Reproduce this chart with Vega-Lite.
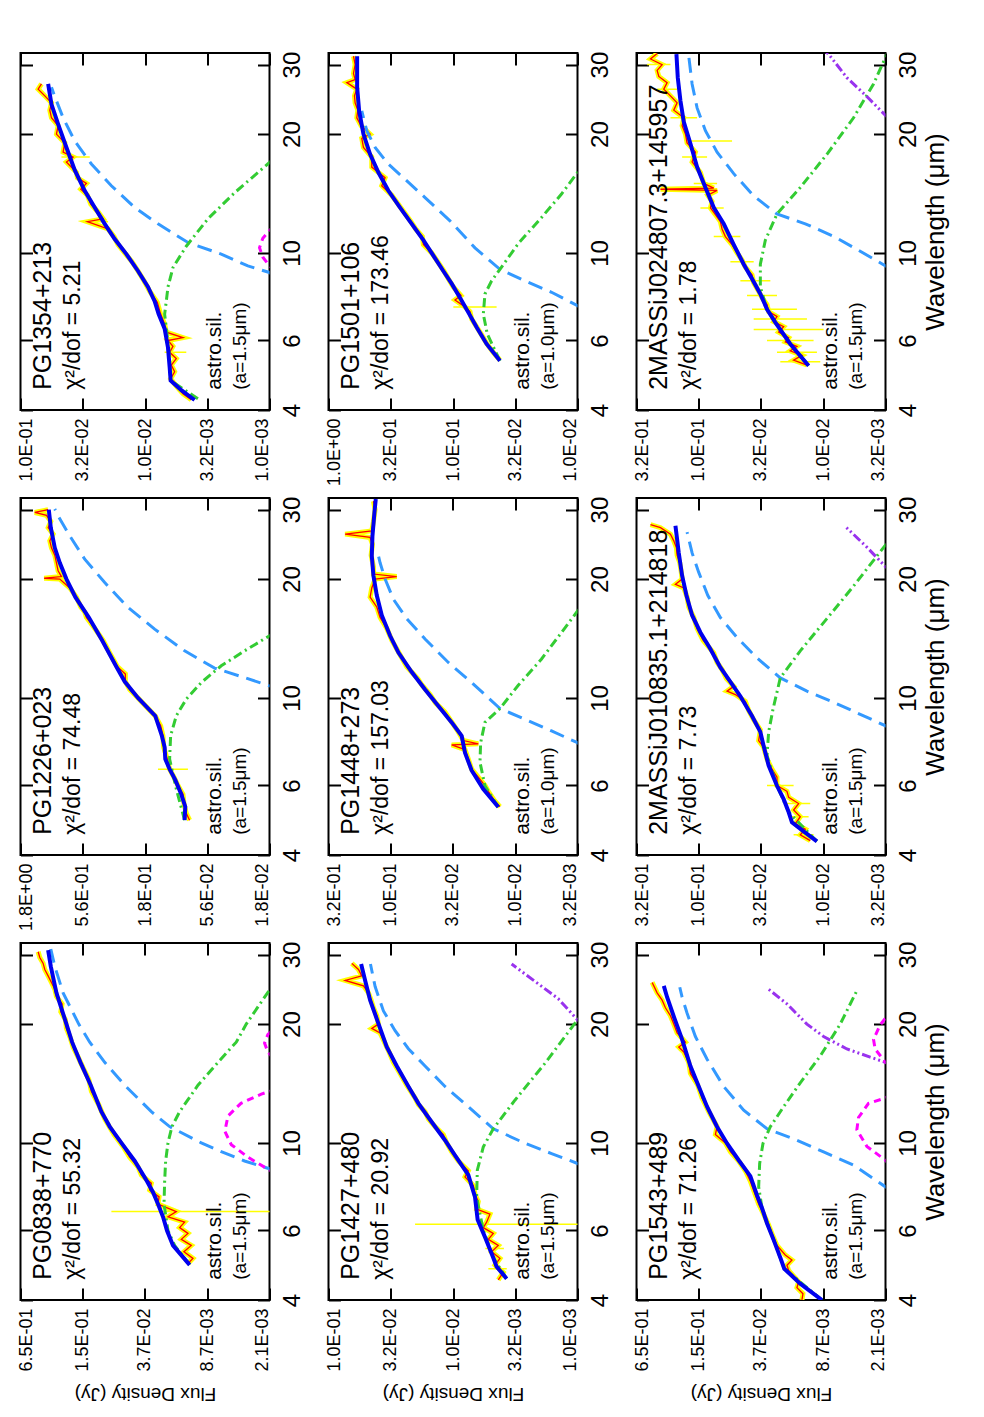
{
"$schema":"https://vega.github.io/schema/vega-lite/v6.json",
"padding":{"left":15.5,"top":50,"right":5,"bottom":5},
"autosize":{"type":"pad"},
"config":{"font":"Liberation Sans","view":{"stroke":"black","strokeWidth":2},"axis":{"labelColor":"black","titleColor":"black","labelFont":"Liberation Sans","titleFont":"Liberation Sans"}},
"datasets":{
"a":[
{"s":"fit","w":4.91,"f":0.01309},{"s":"fit","w":5.5,"f":0.01922},{"s":"fit","w":6.0,"f":0.02207},{"s":"fit","w":6.5,"f":0.0242},{"s":"fit","w":7.0,"f":0.02716},{"s":"fit","w":7.5,"f":0.03049},{"s":"fit","w":8.0,"f":0.03501},{"s":"fit","w":9.0,"f":0.04653},{"s":"fit","w":10,"f":0.06328},{"s":"fit","w":11,"f":0.08283},{"s":"fit","w":12,"f":0.1004},{"s":"fit","w":14,"f":0.1284},{"s":"fit","w":16,"f":0.1629},{"s":"fit","w":18,"f":0.1975},{"s":"fit","w":20,"f":0.225},{"s":"fit","w":24,"f":0.2835},{"s":"fit","w":28,"f":0.3229},{"s":"fit","w":30.8,"f":0.3434},
{"s":"spec","w":4.95,"f":0.0136},{"s":"spec","w":5.1,"f":0.01212},{"s":"spec","w":5.3,"f":0.01492},{"s":"spec","w":5.5,"f":0.01259},{"s":"spec","w":5.7,"f":0.01586},{"s":"spec","w":5.9,"f":0.0136},{"s":"spec","w":6.1,"f":0.01648},{"s":"spec","w":6.3,"f":0.01469},{"s":"spec","w":6.5,"f":0.02157},{"s":"spec","w":6.7,"f":0.0178},{"s":"spec","w":7.0,"f":0.02716},{"s":"spec","w":7.3,"f":0.0265},{"s":"spec","w":7.6,"f":0.03292},{"s":"spec","w":7.9,"f":0.03168},{"s":"spec","w":8.3,"f":0.0399},{"s":"spec","w":8.7,"f":0.0431},{"s":"spec","w":9.2,"f":0.05222},{"s":"spec","w":9.8,"f":0.06089},{"s":"spec","w":10.5,"f":0.07491},{"s":"spec","w":11.5,"f":0.09294},{"s":"spec","w":12.5,"f":0.1068},{"s":"spec","w":13.5,"f":0.1264},{"s":"spec","w":14.5,"f":0.1344},{"s":"spec","w":15.5,"f":0.1532},{"s":"spec","w":16.5,"f":0.1719},{"s":"spec","w":17.5,"f":0.1929},{"s":"spec","w":18.5,"f":0.2067},{"s":"spec","w":19.5,"f":0.225},{"s":"spec","w":20.5,"f":0.2303},{"s":"spec","w":21.5,"f":0.2564},{"s":"spec","w":22.5,"f":0.2486},{"s":"spec","w":23.5,"f":0.2835},{"s":"spec","w":24.5,"f":0.2944},{"s":"spec","w":25.5,"f":0.318},{"s":"spec","w":26.5,"f":0.3434},{"s":"spec","w":27.5,"f":0.3709},{"s":"spec","w":28.5,"f":0.3853},{"s":"spec","w":29.5,"f":0.4163},{"s":"spec","w":30.5,"f":0.4325},
{"s":"err","w":6.7,"lo":0.0015,"hi":0.0797},
{"s":"pl","w":8.45,"f":0.0017},{"s":"pl","w":8.6,"f":0.00207},{"s":"pl","w":9.0,"f":0.00368},{"s":"pl","w":9.5,"f":0.0063},{"s":"pl","w":10,"f":0.01},{"s":"pl","w":11,"f":0.02076},{"s":"pl","w":12,"f":0.03168},{"s":"pl","w":14,"f":0.05859},{"s":"pl","w":16,"f":0.09294},{"s":"pl","w":18,"f":0.1314},{"s":"pl","w":20,"f":0.1693},{"s":"pl","w":24,"f":0.243},{"s":"pl","w":28,"f":0.2944},{"s":"pl","w":31,"f":0.3229},
{"s":"sil","w":4.91,"f":0.01309},{"s":"sil","w":5.5,"f":0.01849},{"s":"sil","w":6,"f":0.02157},{"s":"sil","w":7,"f":0.02365},{"s":"sil","w":8,"f":0.02329},{"s":"sil","w":9,"f":0.02277},{"s":"sil","w":10,"f":0.02157},{"s":"sil","w":11,"f":0.01967},{"s":"sil","w":12,"f":0.01648},{"s":"sil","w":14,"f":0.0108},{"s":"sil","w":16,"f":0.00681},{"s":"sil","w":18,"f":0.00446},{"s":"sil","w":20,"f":0.00354},{"s":"sil","w":24.4,"f":0.00207},{"s":"sil","w":25,"f":0.0019},
{"s":"mag","w":8.4,"f":0.0018},{"s":"mag","w":8.53,"f":0.00207},{"s":"mag","w":9.2,"f":0.0034},{"s":"mag","w":9.9,"f":0.005},{"s":"mag","w":10.7,"f":0.0058},{"s":"mag","w":11.7,"f":0.0054},{"s":"mag","w":12.6,"f":0.004},{"s":"mag","w":13.3,"f":0.0025},{"s":"mag","w":13.6,"f":0.0019},
{"s":"mag2","w":16.4,"f":0.0019},{"s":"mag2","w":17.0,"f":0.00215},{"s":"mag2","w":17.9,"f":0.00232},{"s":"mag2","w":18.8,"f":0.00215},{"s":"mag2","w":19.4,"f":0.0019},
{"s":"name","w":4.5,"f":0.3185,"t":"PG0838+770"},{"s":"chi","w":4.5,"f":0.1654,"t":"χ²/dof = 55.32"},{"s":"lab","w":4.5,"f":0.006313,"t":"astro.sil."},{"s":"grain","w":4.5,"f":0.003572,"t":"(a=1.5μm)"}
],
"b":[
{"s":"fit","w":4.9,"f":0.08555},{"s":"fit","w":5.3,"f":0.08451},{"s":"fit","w":5.7,"f":0.09099},{"s":"fit","w":6.2,"f":0.1017},{"s":"fit","w":6.6,"f":0.1129},{"s":"fit","w":7.0,"f":0.1223},{"s":"fit","w":7.5,"f":0.1238},{"s":"fit","w":8.0,"f":0.13},{"s":"fit","w":9.0,"f":0.1471},{"s":"fit","w":10,"f":0.2025},{"s":"fit","w":11,"f":0.2591},{"s":"fit","w":12,"f":0.3021},{"s":"fit","w":14,"f":0.3938},{"s":"fit","w":16,"f":0.5039},{"s":"fit","w":18,"f":0.6445},{"s":"fit","w":20,"f":0.7612},{"s":"fit","w":22,"f":0.8607},{"s":"fit","w":24,"f":0.9441},{"s":"fit","w":27,"f":1.0165},{"s":"fit","w":30,"f":1.0546},
{"s":"spec","w":4.9,"f":0.078},{"s":"spec","w":5.1,"f":0.08294},{"s":"spec","w":5.4,"f":0.08661},{"s":"spec","w":5.7,"f":0.08822},{"s":"spec","w":6.0,"f":0.09676},{"s":"spec","w":6.3,"f":0.1042},{"s":"spec","w":6.6,"f":0.1129},{"s":"spec","w":7.0,"f":0.1179},{"s":"spec","w":7.5,"f":0.1261},{"s":"spec","w":8.0,"f":0.1276},{"s":"spec","w":8.5,"f":0.1332},{"s":"spec","w":9.0,"f":0.1471},{"s":"spec","w":9.5,"f":0.1737},{"s":"spec","w":10,"f":0.2025},{"s":"spec","w":10.5,"f":0.2362},{"s":"spec","w":11,"f":0.256},{"s":"spec","w":11.5,"f":0.256},{"s":"spec","w":12,"f":0.2967},{"s":"spec","w":13,"f":0.3418},{"s":"spec","w":14,"f":0.3866},{"s":"spec","w":15,"f":0.4509},{"s":"spec","w":16,"f":0.526},{"s":"spec","w":16.5,"f":0.5425},{"s":"spec","w":17,"f":0.5839},{"s":"spec","w":18,"f":0.6326},{"s":"spec","w":19,"f":0.7155},{"s":"spec","w":20,"f":0.8607},{"s":"spec","w":20.1,"f":1.1497},{"s":"spec","w":20.3,"f":0.8345},{"s":"spec","w":21,"f":0.8878},{"s":"spec","w":22,"f":0.9155},{"s":"spec","w":23,"f":0.9441},{"s":"spec","w":24,"f":1.0039},{"s":"spec","w":25,"f":1.0354},{"s":"spec","w":26,"f":0.9736},{"s":"spec","w":27,"f":1.0678},{"s":"spec","w":28,"f":1.0165},{"s":"spec","w":29,"f":1.101},{"s":"spec","w":29.5,"f":1.3656},{"s":"spec","w":30,"f":1.0678},
{"s":"err","w":6.6,"lo":0.08043,"hi":0.14},
{"s":"pl","w":10.5,"f":0.014},{"s":"pl","w":10.73,"f":0.0178},{"s":"pl","w":11.33,"f":0.03004},{"s":"pl","w":11.9,"f":0.04915},{"s":"pl","w":13.16,"f":0.08555},{"s":"pl","w":14.94,"f":0.1489},{"s":"pl","w":16.95,"f":0.2436},{"s":"pl","w":19.6,"f":0.3749},{"s":"pl","w":22.46,"f":0.5425},{"s":"pl","w":25.73,"f":0.7155},{"s":"pl","w":28.92,"f":0.8878},{"s":"pl","w":30.1,"f":0.9441},
{"s":"sil","w":4.9,"f":0.0856},{"s":"sil","w":5.88,"f":0.0998},{"s":"sil","w":7.0,"f":0.1129},{"s":"sil","w":8.02,"f":0.1108},{"s":"sil","w":9.01,"f":0.0998},{"s":"sil","w":9.93,"f":0.08294},{"s":"sil","w":10.94,"f":0.06288},{"s":"sil","w":12.06,"f":0.04346},{"s":"sil","w":13.16,"f":0.02824},{"s":"sil","w":14.37,"f":0.0178},{"s":"sil","w":14.7,"f":0.015},
{"s":"name","w":4.5,"f":1.0057,"t":"PG1226+023"},{"s":"chi","w":4.5,"f":0.5945,"t":"χ²/dof = 74.48"},{"s":"lab","w":4.5,"f":0.04349,"t":"astro.sil."},{"s":"grain","w":4.5,"f":0.02757,"t":"(a=1.5μm)"}
],
"c":[
{"s":"fit","w":4.24,"f":0.003997},{"s":"fit","w":4.49,"f":0.005111},{"s":"fit","w":4.75,"f":0.006224},{"s":"fit","w":5.14,"f":0.00634},{"s":"fit","w":5.76,"f":0.006538},{"s":"fit","w":6.43,"f":0.006955},{"s":"fit","w":7.0,"f":0.00777},{"s":"fit","w":7.55,"f":0.008368},{"s":"fit","w":8.2,"f":0.009461},{"s":"fit","w":9.0,"f":0.01138},{"s":"fit","w":9.93,"f":0.01411},{"s":"fit","w":10.84,"f":0.01751},{"s":"fit","w":11.85,"f":0.02106},{"s":"fit","w":13.03,"f":0.02533},{"s":"fit","w":14.37,"f":0.03048},{"s":"fit","w":16.2,"f":0.03665},{"s":"fit","w":18.5,"f":0.04276},{"s":"fit","w":21.2,"f":0.04987},{"s":"fit","w":23.8,"f":0.05639},{"s":"fit","w":26.8,"f":0.05998},
{"s":"spec","w":4.25,"f":0.00425},{"s":"spec","w":4.4,"f":0.004958},{"s":"spec","w":4.6,"f":0.005607},{"s":"spec","w":4.8,"f":0.006224},{"s":"spec","w":5.0,"f":0.005781},{"s":"spec","w":5.2,"f":0.006149},{"s":"spec","w":5.4,"f":0.005607},{"s":"spec","w":5.6,"f":0.00634},{"s":"spec","w":5.8,"f":0.005963},{"s":"spec","w":6.0,"f":0.006538},{"s":"spec","w":6.1,"f":0.004958},{"s":"spec","w":6.3,"f":0.006743},{"s":"spec","w":6.6,"f":0.006955},{"s":"spec","w":7.0,"f":0.007487},{"s":"spec","w":7.5,"f":0.007964},{"s":"spec","w":8.0,"f":0.009175},{"s":"spec","w":8.5,"f":0.01019},{"s":"spec","w":9.0,"f":0.01138},{"s":"spec","w":9.5,"f":0.01272},{"s":"spec","w":10,"f":0.01456},{"s":"spec","w":10.5,"f":0.01647},{"s":"spec","w":11,"f":0.01773},{"s":"spec","w":11.5,"f":0.0198},{"s":"spec","w":12,"f":0.02902},{"s":"spec","w":12.2,"f":0.02172},{"s":"spec","w":12.7,"f":0.02382},{"s":"spec","w":13.3,"f":0.02727},{"s":"spec","w":14,"f":0.02902},{"s":"spec","w":14.5,"f":0.03281},{"s":"spec","w":15,"f":0.02956},{"s":"spec","w":15.5,"f":0.0349},{"s":"spec","w":16,"f":0.03555},{"s":"spec","w":17,"f":0.04276},{"s":"spec","w":17.5,"f":0.0378},{"s":"spec","w":18,"f":0.04547},{"s":"spec","w":19,"f":0.04409},{"s":"spec","w":20,"f":0.05142},{"s":"spec","w":21,"f":0.04987},{"s":"spec","w":22,"f":0.05639},{"s":"spec","w":23,"f":0.05816},{"s":"spec","w":24,"f":0.05639},{"s":"spec","w":25,"f":0.06378},{"s":"spec","w":26,"f":0.07216},{"s":"spec","w":26.8,"f":0.06786},
{"s":"err","w":5.6,"lo":0.004661,"hi":0.006955},{"s":"err","w":6.1,"lo":0.004806,"hi":0.006743},{"s":"err","w":12.0,"lo":0.0198,"hi":0.03048},{"s":"err","w":17.5,"lo":0.02779,"hi":0.0469},
{"s":"pl","w":8.7,"f":0.0009},{"s":"pl","w":8.92,"f":0.001},{"s":"pl","w":9.27,"f":0.001492},{"s":"pl","w":9.93,"f":0.002442},{"s":"pl","w":10.63,"f":0.004519},{"s":"pl","w":11.85,"f":0.007864},{"s":"pl","w":13.03,"f":0.0121},{"s":"pl","w":14.8,"f":0.01863},{"s":"pl","w":16.8,"f":0.02694},{"s":"pl","w":19.2,"f":0.03665},{"s":"pl","w":22.0,"f":0.04547},{"s":"pl","w":24.9,"f":0.05303},{"s":"pl","w":26.3,"f":0.05639},
{"s":"sil","w":4.27,"f":0.003757},{"s":"sil","w":4.75,"f":0.006224},{"s":"sil","w":5.76,"f":0.00646},{"s":"sil","w":7.0,"f":0.006955},{"s":"sil","w":7.55,"f":0.006743},{"s":"sil","w":8.2,"f":0.006538},{"s":"sil","w":9.18,"f":0.005963},{"s":"sil","w":10.4,"f":0.004661},{"s":"sil","w":12.2,"f":0.003124},{"s":"sil","w":14.2,"f":0.001909},{"s":"sil","w":16.95,"f":0.001},{"s":"sil","w":17.5,"f":0.0009},
{"s":"mag","w":9.0,"f":0.0009},{"s":"mag","w":9.27,"f":0.001},{"s":"mag","w":9.75,"f":0.001131},{"s":"mag","w":10.3,"f":0.001203},{"s":"mag","w":10.9,"f":0.001131},{"s":"mag","w":11.4,"f":0.001},{"s":"mag","w":11.8,"f":0.0009},
{"s":"name","w":4.5,"f":0.0565,"t":"PG1354+213"},{"s":"chi","w":4.5,"f":0.0334,"t":"χ²/dof = 5.21"},{"s":"lab","w":4.5,"f":0.002443,"t":"astro.sil."},{"s":"grain","w":4.5,"f":0.001549,"t":"(a=1.5μm)"}
],
"d":[
{"s":"fit","w":5.33,"f":0.04198},{"s":"fit","w":5.88,"f":0.05369},{"s":"fit","w":6.48,"f":0.06459},{"s":"fit","w":7.07,"f":0.07534},{"s":"fit","w":7.7,"f":0.08788},{"s":"fit","w":8.36,"f":0.1025},{"s":"fit","w":9.0,"f":0.1196},{"s":"fit","w":9.84,"f":0.1438},{"s":"fit","w":10.77,"f":0.173},{"s":"fit","w":11.85,"f":0.2145},{"s":"fit","w":13.03,"f":0.2661},{"s":"fit","w":14.37,"f":0.3302},{"s":"fit","w":15.98,"f":0.3971},{"s":"fit","w":17.78,"f":0.4631},{"s":"fit","w":20.0,"f":0.5239},{"s":"fit","w":22.9,"f":0.5675},{"s":"fit","w":26.3,"f":0.5889},{"s":"fit","w":31.5,"f":0.5889},
{"s":"spec","w":5.35,"f":0.04198},{"s":"spec","w":5.6,"f":0.04748},{"s":"spec","w":5.9,"f":0.05369},{"s":"spec","w":6.2,"f":0.05888},{"s":"spec","w":6.5,"f":0.06459},{"s":"spec","w":6.8,"f":0.07084},{"s":"spec","w":7.1,"f":0.07305},{"s":"spec","w":7.3,"f":0.08012},{"s":"spec","w":7.6,"f":0.09638},{"s":"spec","w":7.8,"f":0.08627},{"s":"spec","w":8.2,"f":0.09938},{"s":"spec","w":8.6,"f":0.109},{"s":"spec","w":9.0,"f":0.1181},{"s":"spec","w":9.5,"f":0.1327},{"s":"spec","w":10,"f":0.1483},{"s":"spec","w":10.5,"f":0.173},{"s":"spec","w":11,"f":0.1762},{"s":"spec","w":11.5,"f":0.1993},{"s":"spec","w":12,"f":0.2173},{"s":"spec","w":13,"f":0.2613},{"s":"spec","w":14,"f":0.3104},{"s":"spec","w":14.8,"f":0.3734},{"s":"spec","w":15.5,"f":0.3511},{"s":"spec","w":16.5,"f":0.4492},{"s":"spec","w":17.5,"f":0.4492},{"s":"spec","w":18.5,"f":0.5239},{"s":"spec","w":19.5,"f":0.5403},{"s":"spec","w":20,"f":0.4631},{"s":"spec","w":21,"f":0.547},{"s":"spec","w":22,"f":0.5925},{"s":"spec","w":23,"f":0.5816},{"s":"spec","w":24,"f":0.611},{"s":"spec","w":25,"f":0.6186},{"s":"spec","w":26,"f":0.5925},{"s":"spec","w":27,"f":0.7126},{"s":"spec","w":27.5,"f":0.611},{"s":"spec","w":28.5,"f":0.63},{"s":"spec","w":30,"f":0.611},{"s":"spec","w":31.5,"f":0.63},
{"s":"err","w":7.3,"lo":0.04464,"hi":0.09938},
{"s":"pl","w":7.2,"f":0.009},{"s":"pl","w":7.35,"f":0.01},{"s":"pl","w":7.95,"f":0.01616},{"s":"pl","w":8.5,"f":0.02645},{"s":"pl","w":9.09,"f":0.04198},{"s":"pl","w":10.3,"f":0.06661},{"s":"pl","w":12.06,"f":0.1057},{"s":"pl","w":13.81,"f":0.1677},{"s":"pl","w":15.37,"f":0.2427},{"s":"pl","w":16.78,"f":0.3302},{"s":"pl","w":18.5,"f":0.4222},{"s":"pl","w":20.4,"f":0.4927},{"s":"pl","w":22.9,"f":0.5403},
{"s":"sil","w":5.33,"f":0.04198},{"s":"sil","w":6.23,"f":0.05303},{"s":"sil","w":7.0,"f":0.0571},{"s":"sil","w":7.87,"f":0.05536},{"s":"sil","w":8.5,"f":0.04895},{"s":"sil","w":9.09,"f":0.04198},{"s":"sil","w":10.56,"f":0.02991},{"s":"sil","w":12.3,"f":0.01944},{"s":"sil","w":14.1,"f":0.01344},{"s":"sil","w":15.98,"f":0.01},{"s":"sil","w":16.5,"f":0.009},
{"s":"name","w":4.5,"f":0.565,"t":"PG1501+106"},{"s":"chi","w":4.5,"f":0.334,"t":"χ²/dof = 173.46"},{"s":"lab","w":4.5,"f":0.02443,"t":"astro.sil."},{"s":"grain","w":4.5,"f":0.01549,"t":"(a=1.0μm)"}
],
"e":[
{"s":"fit","w":5.29,"f":0.01369},{"s":"fit","w":5.88,"f":0.01806},{"s":"fit","w":6.55,"f":0.0224},{"s":"fit","w":7.27,"f":0.02533},{"s":"fit","w":8.02,"f":0.02694},{"s":"fit","w":8.67,"f":0.03241},{"s":"fit","w":9.54,"f":0.04146},{"s":"fit","w":10.5,"f":0.05303},{"s":"fit","w":11.63,"f":0.06785},{"s":"fit","w":13.03,"f":0.08678},{"s":"fit","w":14.37,"f":0.1012},{"s":"fit","w":16.2,"f":0.1181},{"s":"fit","w":18.2,"f":0.1295},{"s":"fit","w":20.4,"f":0.1377},{"s":"fit","w":22.9,"f":0.142},{"s":"fit","w":25.7,"f":0.1403},{"s":"fit","w":29.5,"f":0.1352},{"s":"fit","w":31.9,"f":0.1319},
{"s":"spec","w":5.3,"f":0.01327},{"s":"spec","w":5.5,"f":0.01474},{"s":"spec","w":5.8,"f":0.01647},{"s":"spec","w":6.0,"f":0.01751},{"s":"spec","w":6.3,"f":0.0198},{"s":"spec","w":6.6,"f":0.0224},{"s":"spec","w":7.0,"f":0.02382},{"s":"spec","w":7.4,"f":0.02533},{"s":"spec","w":7.6,"f":0.03241},{"s":"spec","w":7.65,"f":0.0198},{"s":"spec","w":7.8,"f":0.02613},{"s":"spec","w":8.2,"f":0.02866},{"s":"spec","w":8.7,"f":0.03241},{"s":"spec","w":9.2,"f":0.03665},{"s":"spec","w":9.7,"f":0.04355},{"s":"spec","w":10.2,"f":0.04835},{"s":"spec","w":10.8,"f":0.05639},{"s":"spec","w":11.2,"f":0.06072},{"s":"spec","w":12,"f":0.07439},{"s":"spec","w":13,"f":0.08573},{"s":"spec","w":14,"f":0.09817},{"s":"spec","w":15,"f":0.1076},{"s":"spec","w":16,"f":0.1218},{"s":"spec","w":17,"f":0.1295},{"s":"spec","w":18,"f":0.1465},{"s":"spec","w":19,"f":0.142},{"s":"spec","w":20,"f":0.1336},{"s":"spec","w":20.3,"f":0.08951},{"s":"spec","w":20.6,"f":0.1377},{"s":"spec","w":21.5,"f":0.1377},{"s":"spec","w":23,"f":0.1438},{"s":"spec","w":24.5,"f":0.1403},{"s":"spec","w":25.5,"f":0.1465},{"s":"spec","w":26,"f":0.2325},{"s":"spec","w":26.5,"f":0.142},{"s":"spec","w":28,"f":0.1377},{"s":"spec","w":30,"f":0.1336},{"s":"spec","w":31.5,"f":0.1377},
{"s":"pl","w":7.5,"f":0.0028},{"s":"pl","w":7.7,"f":0.003162},{"s":"pl","w":8.25,"f":0.005111},{"s":"pl","w":8.83,"f":0.008368},{"s":"pl","w":9.4,"f":0.01327},{"s":"pl","w":10.94,"f":0.0224},{"s":"pl","w":12.3,"f":0.03447},{"s":"pl","w":14.1,"f":0.05303},{"s":"pl","w":15.88,"f":0.07439},{"s":"pl","w":17.78,"f":0.09519},{"s":"pl","w":20.0,"f":0.111},{"s":"pl","w":22.0,"f":0.1218},{"s":"pl","w":23.3,"f":0.1272},
{"s":"sil","w":5.29,"f":0.01369},{"s":"sil","w":5.99,"f":0.01751},{"s":"sil","w":6.87,"f":0.0192},{"s":"sil","w":7.7,"f":0.01897},{"s":"sil","w":8.67,"f":0.01751},{"s":"sil","w":9.4,"f":0.01327},{"s":"sil","w":10.77,"f":0.009461},{"s":"sil","w":12.55,"f":0.006149},{"s":"sil","w":14.65,"f":0.00425},{"s":"sil","w":16.6,"f":0.003162},{"s":"sil","w":17.2,"f":0.0028},
{"s":"name","w":4.5,"f":0.1787,"t":"PG1448+273"},{"s":"chi","w":4.5,"f":0.1056,"t":"χ²/dof = 157.03"},{"s":"lab","w":4.5,"f":0.007725,"t":"astro.sil."},{"s":"grain","w":4.5,"f":0.004898,"t":"(a=1.0μm)"}
],
"f":[
{"s":"fit","w":4.53,"f":0.003709},{"s":"fit","w":4.86,"f":0.004464},{"s":"fit","w":5.12,"f":0.004748},{"s":"fit","w":5.78,"f":0.005537},{"s":"fit","w":6.39,"f":0.00634},{"s":"fit","w":7.3,"f":0.00666},{"s":"fit","w":8.3,"f":0.007534},{"s":"fit","w":9.3,"f":0.009638},{"s":"fit","w":10.16,"f":0.01159},{"s":"fit","w":11.3,"f":0.01483},{"s":"fit","w":12.6,"f":0.01897},{"s":"fit","w":13.9,"f":0.02282},{"s":"fit","w":15.66,"f":0.0283},{"s":"fit","w":17.5,"f":0.03405},{"s":"fit","w":20.06,"f":0.03971},{"s":"fit","w":23.0,"f":0.04631},{"s":"fit","w":25.8,"f":0.05079},{"s":"fit","w":28.4,"f":0.0547},
{"s":"spec","w":4.5,"f":0.004328},{"s":"spec","w":4.7,"f":0.003947},{"s":"spec","w":4.9,"f":0.004602},{"s":"spec","w":5.1,"f":0.004198},{"s":"spec","w":5.3,"f":0.004895},{"s":"spec","w":5.5,"f":0.004328},{"s":"spec","w":5.7,"f":0.005207},{"s":"spec","w":5.9,"f":0.004748},{"s":"spec","w":6.1,"f":0.00571},{"s":"spec","w":6.3,"f":0.005369},{"s":"spec","w":6.6,"f":0.005049},{"s":"spec","w":6.8,"f":0.006459},{"s":"spec","w":7.1,"f":0.006262},{"s":"spec","w":7.4,"f":0.00666},{"s":"spec","w":7.8,"f":0.006867},{"s":"spec","w":8.2,"f":0.008012},{"s":"spec","w":8.5,"f":0.007534},{"s":"spec","w":9.0,"f":0.009063},{"s":"spec","w":9.5,"f":0.01025},{"s":"spec","w":10,"f":0.01124},{"s":"spec","w":10.5,"f":0.01196},{"s":"spec","w":11,"f":0.01395},{"s":"spec","w":11.5,"f":0.01577},{"s":"spec","w":12,"f":0.01677},{"s":"spec","w":12.5,"f":0.01897},{"s":"spec","w":13,"f":0.02017},{"s":"spec","w":14,"f":0.02352},{"s":"spec","w":15,"f":0.02661},{"s":"spec","w":16,"f":0.0301},{"s":"spec","w":17,"f":0.03261},{"s":"spec","w":18,"f":0.03555},{"s":"spec","w":19,"f":0.03851},{"s":"spec","w":19.5,"f":0.04492},{"s":"spec","w":20,"f":0.03971},{"s":"spec","w":21,"f":0.04095},{"s":"spec","w":22,"f":0.04355},{"s":"spec","w":23,"f":0.04547},{"s":"spec","w":24,"f":0.04776},{"s":"spec","w":25,"f":0.05239},{"s":"spec","w":25.8,"f":0.07349},{"s":"spec","w":26.5,"f":0.05403},{"s":"spec","w":27.5,"f":0.05745},{"s":"spec","w":28.5,"f":0.06497},
{"s":"err","w":6.22,"lo":0.0008,"hi":0.02017},{"s":"err","w":4.8,"lo":0.0037,"hi":0.0052},{"s":"err","w":5.4,"lo":0.0039,"hi":0.0055},
{"s":"pl","w":8.7,"f":0.0009},{"s":"pl","w":8.87,"f":0.001},{"s":"pl","w":9.4,"f":0.001616},{"s":"pl","w":9.98,"f":0.002645},{"s":"pl","w":10.86,"f":0.004748},{"s":"pl","w":12.35,"f":0.007534},{"s":"pl","w":13.9,"f":0.01159},{"s":"pl","w":15.66,"f":0.01677},{"s":"pl","w":17.33,"f":0.02282},{"s":"pl","w":19.24,"f":0.02918},{"s":"pl","w":21.6,"f":0.03621},{"s":"pl","w":24.9,"f":0.04222},{"s":"pl","w":28.4,"f":0.04603},
{"s":"sil","w":4.53,"f":0.003709},{"s":"sil","w":5.12,"f":0.004748},{"s":"sil","w":6.0,"f":0.00571},{"s":"sil","w":7.3,"f":0.006459},{"s":"sil","w":8.53,"f":0.006378},{"s":"sil","w":9.77,"f":0.00571},{"s":"sil","w":10.86,"f":0.004748},{"s":"sil","w":12.83,"f":0.003182},{"s":"sil","w":15.9,"f":0.001828},{"s":"sil","w":20.5,"f":0.001},{"s":"sil","w":21.2,"f":0.0009},
{"s":"pur","w":20.0,"f":0.0009},{"s":"pur","w":20.5,"f":0.001},{"s":"pur","w":23.2,"f":0.001429},{"s":"pur","w":25.3,"f":0.002068},{"s":"pur","w":28.4,"f":0.003383},
{"s":"name","w":4.5,"f":0.0565,"t":"PG1427+480"},{"s":"chi","w":4.5,"f":0.0334,"t":"χ²/dof = 20.92"},{"s":"lab","w":4.5,"f":0.002443,"t":"astro.sil."},{"s":"grain","w":4.5,"f":0.001549,"t":"(a=1.5μm)"}
],
"g":[
{"s":"fit","w":4.33,"f":0.01124},{"s":"fit","w":4.59,"f":0.01438},{"s":"fit","w":4.84,"f":0.01784},{"s":"fit","w":5.14,"f":0.01897},{"s":"fit","w":5.54,"f":0.0208},{"s":"fit","w":5.99,"f":0.02353},{"s":"fit","w":6.74,"f":0.02745},{"s":"fit","w":7.55,"f":0.03011},{"s":"fit","w":8.2,"f":0.03201},{"s":"fit","w":9.0,"f":0.03734},{"s":"fit","w":10.1,"f":0.04631},{"s":"fit","w":11.95,"f":0.06703},{"s":"fit","w":13.3,"f":0.0806},{"s":"fit","w":14.65,"f":0.09696},{"s":"fit","w":16.2,"f":0.1131},{"s":"fit","w":18.2,"f":0.1256},{"s":"fit","w":20.4,"f":0.136},{"s":"fit","w":23.3,"f":0.1447},{"s":"fit","w":27.3,"f":0.1539},
{"s":"spec","w":4.35,"f":0.01272},{"s":"spec","w":4.5,"f":0.01529},{"s":"spec","w":4.65,"f":0.01394},{"s":"spec","w":4.8,"f":0.01678},{"s":"spec","w":5.0,"f":0.01529},{"s":"spec","w":5.2,"f":0.0173},{"s":"spec","w":5.4,"f":0.01577},{"s":"spec","w":5.6,"f":0.01897},{"s":"spec","w":5.8,"f":0.01956},{"s":"spec","w":6.0,"f":0.02353},{"s":"spec","w":6.3,"f":0.02353},{"s":"spec","w":6.6,"f":0.02581},{"s":"spec","w":7.0,"f":0.0283},{"s":"spec","w":7.5,"f":0.03011},{"s":"spec","w":7.8,"f":0.03302},{"s":"spec","w":8.3,"f":0.03201},{"s":"spec","w":8.8,"f":0.0362},{"s":"spec","w":9.3,"f":0.03971},{"s":"spec","w":9.8,"f":0.04224},{"s":"spec","w":10.2,"f":0.05079},{"s":"spec","w":10.4,"f":0.05924},{"s":"spec","w":10.7,"f":0.05237},{"s":"spec","w":11.2,"f":0.05998},{"s":"spec","w":11.8,"f":0.06497},{"s":"spec","w":12.3,"f":0.07126},{"s":"spec","w":13,"f":0.07578},{"s":"spec","w":14,"f":0.0923},{"s":"spec","w":15,"f":0.1031},{"s":"spec","w":16,"f":0.1097},{"s":"spec","w":17,"f":0.1203},{"s":"spec","w":18,"f":0.1241},{"s":"spec","w":19,"f":0.1319},{"s":"spec","w":19.4,"f":0.1539},{"s":"spec","w":20,"f":0.136},{"s":"spec","w":21,"f":0.1386},{"s":"spec","w":22,"f":0.142},{"s":"spec","w":23,"f":0.1492},{"s":"spec","w":24,"f":0.1511},{"s":"spec","w":25,"f":0.1587},{"s":"spec","w":26,"f":0.1688},{"s":"spec","w":27,"f":0.203},{"s":"spec","w":27.5,"f":0.2441},
{"s":"err","w":4.5,"lo":0.01196,"hi":0.0173},{"s":"err","w":5.0,"lo":0.01311,"hi":0.01784},{"s":"err","w":5.4,"lo":0.01272,"hi":0.01956},{"s":"err","w":6.0,"lo":0.0173,"hi":0.0283},
{"s":"pl","w":8.3,"f":0.0028},{"s":"pl","w":8.5,"f":0.003162},{"s":"pl","w":9.09,"f":0.005047},{"s":"pl","w":9.75,"f":0.008263},{"s":"pl","w":10.4,"f":0.01352},{"s":"pl","w":11.24,"f":0.02213},{"s":"pl","w":12.63,"f":0.03405},{"s":"pl","w":14.23,"f":0.04926},{"s":"pl","w":15.98,"f":0.06703},{"s":"pl","w":18.2,"f":0.08468},{"s":"pl","w":20.8,"f":0.1},{"s":"pl","w":23.3,"f":0.1131},{"s":"pl","w":26.3,"f":0.1241},
{"s":"sil","w":4.33,"f":0.01124},{"s":"sil","w":5.14,"f":0.01897},{"s":"sil","w":5.99,"f":0.02353},{"s":"sil","w":7.14,"f":0.0283},{"s":"sil","w":8.2,"f":0.02745},{"s":"sil","w":9.36,"f":0.02533},{"s":"sil","w":11.24,"f":0.02213},{"s":"sil","w":13.16,"f":0.01529},{"s":"sil","w":15.88,"f":0.009346},{"s":"sil","w":19.2,"f":0.00571},{"s":"sil","w":24.4,"f":0.003162},{"s":"sil","w":25.2,"f":0.0028},
{"s":"pur","w":21.0,"f":0.0028},{"s":"pur","w":21.5,"f":0.003162},{"s":"pur","w":24.1,"f":0.004464},{"s":"pur","w":27.2,"f":0.00666},
{"s":"name","w":4.5,"f":0.1787,"t":"2MASSiJ010835.1+214818"},{"s":"chi","w":4.5,"f":0.1056,"t":"χ²/dof = 7.73"},{"s":"lab","w":4.5,"f":0.007725,"t":"astro.sil."},{"s":"grain","w":4.5,"f":0.004898,"t":"(a=1.5μm)"}
],
"h":[
{"s":"fit","w":4.0,"f":0.008984},{"s":"fit","w":4.4,"f":0.01481},{"s":"fit","w":4.8,"f":0.02142},{"s":"fit","w":5.12,"f":0.02348},{"s":"fit","w":5.68,"f":0.02739},{"s":"fit","w":6.26,"f":0.03193},{"s":"fit","w":6.84,"f":0.03584},{"s":"fit","w":7.37,"f":0.04023},{"s":"fit","w":8.24,"f":0.0469},{"s":"fit","w":9.04,"f":0.06138},{"s":"fit","w":9.97,"f":0.08032},{"s":"fit","w":10.99,"f":0.1012},{"s":"fit","w":12.35,"f":0.1274},{"s":"fit","w":13.9,"f":0.1544},{"s":"fit","w":15.66,"f":0.1872},{"s":"fit","w":18.3,"f":0.2268},{"s":"fit","w":20.9,"f":0.2748},{"s":"fit","w":23.4,"f":0.3205},{"s":"fit","w":25.0,"f":0.3461},
{"s":"spec","w":4.0,"f":0.01425},{"s":"spec","w":4.15,"f":0.01392},{"s":"spec","w":4.3,"f":0.01599},{"s":"spec","w":4.45,"f":0.01539},{"s":"spec","w":4.6,"f":0.01727},{"s":"spec","w":4.75,"f":0.01938},{"s":"spec","w":4.9,"f":0.02014},{"s":"spec","w":5.05,"f":0.01794},{"s":"spec","w":5.2,"f":0.02093},{"s":"spec","w":5.5,"f":0.02536},{"s":"spec","w":5.8,"f":0.02781},{"s":"spec","w":6.2,"f":0.03074},{"s":"spec","w":6.6,"f":0.0345},{"s":"spec","w":7.0,"f":0.03871},{"s":"spec","w":7.5,"f":0.04278},{"s":"spec","w":8.0,"f":0.0469},{"s":"spec","w":8.5,"f":0.05264},{"s":"spec","w":9.0,"f":0.06138},{"s":"spec","w":9.5,"f":0.07436},{"s":"spec","w":10,"f":0.08349},{"s":"spec","w":10.5,"f":0.1051},{"s":"spec","w":11,"f":0.1012},{"s":"spec","w":12,"f":0.1226},{"s":"spec","w":13,"f":0.143},{"s":"spec","w":14,"f":0.158},{"s":"spec","w":15,"f":0.1872},{"s":"spec","w":16,"f":0.1944},{"s":"spec","w":17,"f":0.2183},{"s":"spec","w":17.5,"f":0.2449},{"s":"spec","w":18,"f":0.2101},{"s":"spec","w":19,"f":0.2544},{"s":"spec","w":20,"f":0.2748},{"s":"spec","w":21,"f":0.2969},{"s":"spec","w":22,"f":0.3331},{"s":"spec","w":23,"f":0.3596},{"s":"spec","w":24,"f":0.4036},{"s":"spec","w":25,"f":0.4359},{"s":"spec","w":25.5,"f":0.453},
{"s":"pl","w":7.6,"f":0.0018},{"s":"pl","w":7.74,"f":0.002069},{"s":"pl","w":8.78,"f":0.004327},{"s":"pl","w":9.49,"f":0.008646},{"s":"pl","w":10.16,"f":0.01599},{"s":"pl","w":10.86,"f":0.03193},{"s":"pl","w":12.1,"f":0.0547},{"s":"pl","w":13.9,"f":0.08674},{"s":"pl","w":16.3,"f":0.1274},{"s":"pl","w":18.6,"f":0.1668},{"s":"pl","w":21.3,"f":0.202},{"s":"pl","w":23.4,"f":0.2268},{"s":"pl","w":24.8,"f":0.2393},
{"s":"sil","w":4.0,"f":0.008984},{"s":"sil","w":4.8,"f":0.02142},{"s":"sil","w":5.68,"f":0.02739},{"s":"sil","w":6.84,"f":0.03584},{"s":"sil","w":7.74,"f":0.03871},{"s":"sil","w":8.87,"f":0.03783},{"s":"sil","w":9.97,"f":0.03503},{"s":"sil","w":10.99,"f":0.02958},{"s":"sil","w":12.35,"f":0.02175},{"s":"sil","w":14.2,"f":0.01481},{"s":"sil","w":16.6,"f":0.009334},{"s":"sil","w":20.0,"f":0.005885},{"s":"sil","w":24.5,"f":0.003947},
{"s":"pur","w":15.85,"f":0.0018},{"s":"pur","w":16.0,"f":0.002069},{"s":"pur","w":16.5,"f":0.002946},{"s":"pur","w":17.3,"f":0.005047},{"s":"pur","w":18.6,"f":0.008646},{"s":"pur","w":20.0,"f":0.0127},{"s":"pur","w":22.5,"f":0.02014},{"s":"pur","w":24.7,"f":0.03193},
{"s":"mag","w":8.8,"f":0.0019},{"s":"mag","w":9.04,"f":0.00207},{"s":"mag","w":9.8,"f":0.00318},{"s":"mag","w":10.8,"f":0.00401},{"s":"mag","w":11.6,"f":0.00386},{"s":"mag","w":12.6,"f":0.00306},{"s":"mag","w":13.0,"f":0.00207},{"s":"mag","w":13.2,"f":0.0019},
{"s":"mag2","w":15.8,"f":0.0019},{"s":"mag2","w":16.0,"f":0.00207},{"s":"mag2","w":17.3,"f":0.00263},{"s":"mag2","w":18.3,"f":0.00273},{"s":"mag2","w":19.9,"f":0.00234},{"s":"mag2","w":20.7,"f":0.00207},{"s":"mag2","w":21.0,"f":0.0019},
{"s":"name","w":4.5,"f":0.3185,"t":"PG1543+489"},{"s":"chi","w":4.5,"f":0.1654,"t":"χ²/dof = 71.26"},{"s":"lab","w":4.5,"f":0.006313,"t":"astro.sil."},{"s":"grain","w":4.5,"f":0.003572,"t":"(a=1.5μm)"}
],
"i":[
{"s":"fit","w":5.18,"f":0.01311},{"s":"fit","w":5.88,"f":0.0184},{"s":"fit","w":6.67,"f":0.02427},{"s":"fit","w":7.2,"f":0.0283},{"s":"fit","w":7.87,"f":0.03201},{"s":"fit","w":8.6,"f":0.03734},{"s":"fit","w":9.36,"f":0.04355},{"s":"fit","w":10.5,"f":0.05237},{"s":"fit","w":11.85,"f":0.06303},{"s":"fit","w":13.03,"f":0.07578},{"s":"fit","w":14.65,"f":0.0884},{"s":"fit","w":16.5,"f":0.1031},{"s":"fit","w":18.9,"f":0.1166},{"s":"fit","w":21.5,"f":0.1319},{"s":"fit","w":24.3,"f":0.1403},{"s":"fit","w":27.8,"f":0.1474},{"s":"fit","w":31.9,"f":0.1511},
{"s":"spec","w":5.2,"f":0.01352},{"s":"spec","w":5.35,"f":0.0173},{"s":"spec","w":5.5,"f":0.01483},{"s":"spec","w":5.65,"f":0.0184},{"s":"spec","w":5.8,"f":0.01627},{"s":"spec","w":5.95,"f":0.02017},{"s":"spec","w":6.1,"f":0.01897},{"s":"spec","w":6.3,"f":0.02282},{"s":"spec","w":6.5,"f":0.0208},{"s":"spec","w":6.7,"f":0.02502},{"s":"spec","w":6.9,"f":0.02353},{"s":"spec","w":7.1,"f":0.02745},{"s":"spec","w":7.4,"f":0.0283},{"s":"spec","w":7.7,"f":0.03105},{"s":"spec","w":8.0,"f":0.03302},{"s":"spec","w":8.4,"f":0.0362},{"s":"spec","w":8.8,"f":0.03734},{"s":"spec","w":9.2,"f":0.04224},{"s":"spec","w":9.6,"f":0.04491},{"s":"spec","w":10,"f":0.04926},{"s":"spec","w":10.5,"f":0.05402},{"s":"spec","w":11,"f":0.06109},{"s":"spec","w":11.5,"f":0.06497},{"s":"spec","w":12,"f":0.06703},{"s":"spec","w":12.5,"f":0.07347},{"s":"spec","w":13,"f":0.0806},{"s":"spec","w":13.5,"f":0.07816},{"s":"spec","w":14,"f":0.08468},{"s":"spec","w":14.4,"f":0.07126},{"s":"spec","w":14.5,"f":0.203},{"s":"spec","w":14.6,"f":0.07578},{"s":"spec","w":15,"f":0.09119},{"s":"spec","w":16,"f":0.09696},{"s":"spec","w":17,"f":0.1131},{"s":"spec","w":18,"f":0.1063},{"s":"spec","w":19,"f":0.1241},{"s":"spec","w":20,"f":0.1279},{"s":"spec","w":21,"f":0.136},{"s":"spec","w":22,"f":0.1319},{"s":"spec","w":23,"f":0.1587},{"s":"spec","w":24,"f":0.1492},{"s":"spec","w":25,"f":0.1688},{"s":"spec","w":26,"f":0.1909},{"s":"spec","w":27,"f":0.1795},{"s":"spec","w":28,"f":0.2094},{"s":"spec","w":29,"f":0.2159},{"s":"spec","w":30,"f":0.1968},{"s":"spec","w":31,"f":0.2441},{"s":"spec","w":32,"f":0.2159},
{"s":"err","w":5.3,"lo":0.01057,"hi":0.02213},{"s":"err","w":5.6,"lo":0.01124,"hi":0.02353},{"s":"err","w":6.0,"lo":0.01196,"hi":0.0283},{"s":"err","w":6.4,"lo":0.009938,"hi":0.0362},{"s":"err","w":6.8,"lo":0.01352,"hi":0.0362},{"s":"err","w":7.2,"lo":0.01627,"hi":0.03734},{"s":"err","w":7.8,"lo":0.02353,"hi":0.04096},{"s":"err","w":8.5,"lo":0.02661,"hi":0.04631},{"s":"err","w":9.5,"lo":0.0362,"hi":0.05572},{"s":"err","w":11,"lo":0.04631,"hi":0.07578},{"s":"err","w":13,"lo":0.06303,"hi":0.09696},{"s":"err","w":15,"lo":0.07126,"hi":0.1097},{"s":"err","w":17.5,"lo":0.08573,"hi":0.136},{"s":"err","w":19.2,"lo":0.05402,"hi":0.1166},{"s":"err","w":22,"lo":0.1031,"hi":0.1688},{"s":"err","w":26,"lo":0.1492,"hi":0.2159},{"s":"err","w":30,"lo":0.1688,"hi":0.2597},
{"s":"pl","w":9.1,"f":0.0028},{"s":"pl","w":9.27,"f":0.003162},{"s":"pl","w":10.1,"f":0.005047},{"s":"pl","w":11.02,"f":0.008263},{"s":"pl","w":11.85,"f":0.01394},{"s":"pl","w":12.55,"f":0.02353},{"s":"pl","w":13.94,"f":0.0362},{"s":"pl","w":15.88,"f":0.05237},{"s":"pl","w":18.0,"f":0.07126},{"s":"pl","w":20.4,"f":0.0884},{"s":"pl","w":23.3,"f":0.1031},{"s":"pl","w":26.8,"f":0.1131},{"s":"pl","w":31.5,"f":0.1203},
{"s":"sil","w":5.18,"f":0.01311},{"s":"sil","w":5.88,"f":0.0184},{"s":"sil","w":6.67,"f":0.02427},{"s":"sil","w":7.2,"f":0.0283},{"s":"sil","w":8.2,"f":0.03201},{"s":"sil","w":9.36,"f":0.03201},{"s":"sil","w":10.77,"f":0.02919},{"s":"sil","w":12.55,"f":0.02353},{"s":"sil","w":14.65,"f":0.01529},{"s":"sil","w":17.78,"f":0.009346},{"s":"sil","w":22.0,"f":0.00571},{"s":"sil","w":26.8,"f":0.003947},{"s":"sil","w":31.3,"f":0.003162},{"s":"sil","w":32.5,"f":0.003},
{"s":"pur","w":22.0,"f":0.003},{"s":"pur","w":22.3,"f":0.003162},{"s":"pur","w":24.9,"f":0.004464},{"s":"pur","w":27.8,"f":0.006459},{"s":"pur","w":31.9,"f":0.009063},{"s":"pur","w":32.5,"f":0.0097},
{"s":"name","w":4.5,"f":0.1787,"t":"2MASSiJ024807.3+145957"},{"s":"chi","w":4.5,"f":0.1056,"t":"χ²/dof = 1.78"},{"s":"lab","w":4.5,"f":0.007725,"t":"astro.sil."},{"s":"grain","w":4.5,"f":0.004898,"t":"(a=1.5μm)"}
]
},
"columns":3,
"spacing":{"row":88,"column":59},
"bounds":"flush",
"resolve":{"scale":{"x":"independent","y":"independent"}},
"concat":[
{"width":249,"height":357,"data":{"name":"c"},
"encoding":{"x":{"field":"f","type":"quantitative","scale":{"type":"log","domain":[0.001,0.1],"reverse":true,"nice":false},"axis":null},"y":{"field":"w","type":"quantitative","scale":{"type":"log","domain":[4,32.1],"nice":false},"axis":null}},
"resolve":{"axis":{"x":"independent","y":"independent"}},
"layer":[
{"transform":[{"filter":"datum.s=='err'"}],"mark":{"type":"rule","color":"#ffff00","strokeWidth":1.5,"clip":true},"encoding":{"x":{"field":"lo","type":"quantitative","scale":{"type":"log","domain":[0.001,0.1],"reverse":true,"nice":false},"axis":{"orient":"bottom","values":[0.1,0.031623,0.01,0.0031623,0.001],"labelExpr":"format(datum.value / pow(10, floor(log(datum.value)/LN10 + 1e-6)), '.1f') + 'E' + (floor(log(datum.value)/LN10 + 1e-6) < 0 ? '-' : '+') + format(abs(floor(log(datum.value)/LN10 + 1e-6)), '02d')","labelAngle":270,"labelAlign":"right","labelBaseline":"middle","labelFontSize":18,"labelPadding":20,"labelFlush":false,"labelOverlap":false,"labelBound":false,"labelOffset":{"condition":[{"test":"datum.value > 0.09","value":5.5},{"test":"datum.value < 0.0011","value":-7.5}],"value":0},"tickSize":-12,"tickWidth":2,"tickColor":"black","domain":false,"grid":false,"title":null}},"x2":{"field":"hi"},"y":{"field":"w","type":"quantitative","scale":{"type":"log","domain":[4,32.1],"nice":false},"axis":{"orient":"right","values":[4,6,10,20,30],"format":"d","labelAngle":270,"labelAlign":"center","labelBaseline":"top","labelFontSize":24,"labelPadding":23,"labelFlush":false,"labelOverlap":false,"labelBound":false,"tickSize":-12,"tickWidth":2,"tickColor":"black","domain":false,"grid":false,"title":null}}}},
{"transform":[{"filter":"datum.s=='spec'"}],"mark":{"type":"line","color":"#ffff00","strokeWidth":5,"clip":true},"encoding":{"x":{"field":"f","type":"quantitative","scale":{"type":"log","domain":[0.001,0.1],"reverse":true,"nice":false},"axis":{"orient":"top","values":[0.1,0.031623,0.01,0.0031623,0.001],"labels":false,"tickSize":-12,"tickWidth":2,"tickColor":"black","domain":false,"grid":false,"title":null}},"y":{"field":"w","type":"quantitative","scale":{"type":"log","domain":[4,32.1],"nice":false},"axis":{"orient":"left","values":[4,6,10,20,30],"labels":false,"tickSize":-12,"tickWidth":2,"tickColor":"black","domain":false,"grid":false,"title":null}},"order":{"field":"w","type":"quantitative"}}},
{"transform":[{"filter":"datum.s=='spec'"}],"mark":{"type":"line","color":"#ff0000","strokeWidth":1.3,"clip":true},"encoding":{"order":{"field":"w","type":"quantitative"}}},
{"transform":[{"filter":{"field":"s","oneOf":["pl","sil","mag","mag2","pur"]}}],"mark":{"type":"line","strokeWidth":3,"clip":true},"encoding":{"color":{"field":"s","type":"nominal","scale":{"domain":["pl","sil","mag","mag2","pur"],"range":["#3399ff","#33cc33","#ff00ff","#ff00ff","#9933ee"]},"legend":null},"strokeDash":{"field":"s","type":"nominal","scale":{"domain":["pl","sil","mag","mag2","pur"],"range":[[15,8],[9,4,2,4],[7,5],[7,5],[9,3,2,3,2,3]]},"legend":null},"order":{"field":"w","type":"quantitative"}}},
{"transform":[{"filter":"datum.s=='fit'"}],"mark":{"type":"line","color":"#0000ee","strokeWidth":4,"clip":true},"encoding":{"order":{"field":"w","type":"quantitative"}}},
{"transform":[{"filter":{"field":"s","oneOf":["name","chi","lab","grain"]}}],"mark":{"type":"text","angle":270,"align":"left","baseline":"alphabetic","color":"black"},"encoding":{"text":{"field":"t","type":"nominal"},"size":{"field":"s","type":"ordinal","scale":{"domain":["name","chi","lab","grain"],"range":[25,19,17.5,15]},"legend":null}}}
]},
{"width":249,"height":357,"data":{"name":"d"},
"encoding":{"x":{"field":"f","type":"quantitative","scale":{"type":"log","domain":[0.01,1],"reverse":true,"nice":false},"axis":null},"y":{"field":"w","type":"quantitative","scale":{"type":"log","domain":[4,32.1],"nice":false},"axis":null}},
"resolve":{"axis":{"x":"independent","y":"independent"}},
"layer":[
{"transform":[{"filter":"datum.s=='err'"}],"mark":{"type":"rule","color":"#ffff00","strokeWidth":1.5,"clip":true},"encoding":{"x":{"field":"lo","type":"quantitative","scale":{"type":"log","domain":[0.01,1],"reverse":true,"nice":false},"axis":{"orient":"bottom","values":[1,0.316228,0.1,0.031623,0.01],"labelExpr":"format(datum.value / pow(10, floor(log(datum.value)/LN10 + 1e-6)), '.1f') + 'E' + (floor(log(datum.value)/LN10 + 1e-6) < 0 ? '-' : '+') + format(abs(floor(log(datum.value)/LN10 + 1e-6)), '02d')","labelAngle":270,"labelAlign":"right","labelBaseline":"middle","labelFontSize":18,"labelPadding":20,"labelFlush":false,"labelOverlap":false,"labelBound":false,"labelOffset":{"condition":[{"test":"datum.value > 0.9","value":5.5},{"test":"datum.value < 0.011","value":-7.5}],"value":0},"tickSize":-12,"tickWidth":2,"tickColor":"black","domain":false,"grid":false,"title":null}},"x2":{"field":"hi"},"y":{"field":"w","type":"quantitative","scale":{"type":"log","domain":[4,32.1],"nice":false},"axis":{"orient":"right","values":[4,6,10,20,30],"format":"d","labelAngle":270,"labelAlign":"center","labelBaseline":"top","labelFontSize":24,"labelPadding":23,"labelFlush":false,"labelOverlap":false,"labelBound":false,"tickSize":-12,"tickWidth":2,"tickColor":"black","domain":false,"grid":false,"title":null}}}},
{"transform":[{"filter":"datum.s=='spec'"}],"mark":{"type":"line","color":"#ffff00","strokeWidth":5,"clip":true},"encoding":{"x":{"field":"f","type":"quantitative","scale":{"type":"log","domain":[0.01,1],"reverse":true,"nice":false},"axis":{"orient":"top","values":[1,0.316228,0.1,0.031623,0.01],"labels":false,"tickSize":-12,"tickWidth":2,"tickColor":"black","domain":false,"grid":false,"title":null}},"y":{"field":"w","type":"quantitative","scale":{"type":"log","domain":[4,32.1],"nice":false},"axis":{"orient":"left","values":[4,6,10,20,30],"labels":false,"tickSize":-12,"tickWidth":2,"tickColor":"black","domain":false,"grid":false,"title":null}},"order":{"field":"w","type":"quantitative"}}},
{"transform":[{"filter":"datum.s=='spec'"}],"mark":{"type":"line","color":"#ff0000","strokeWidth":1.3,"clip":true},"encoding":{"order":{"field":"w","type":"quantitative"}}},
{"transform":[{"filter":{"field":"s","oneOf":["pl","sil","mag","mag2","pur"]}}],"mark":{"type":"line","strokeWidth":3,"clip":true},"encoding":{"color":{"field":"s","type":"nominal","scale":{"domain":["pl","sil","mag","mag2","pur"],"range":["#3399ff","#33cc33","#ff00ff","#ff00ff","#9933ee"]},"legend":null},"strokeDash":{"field":"s","type":"nominal","scale":{"domain":["pl","sil","mag","mag2","pur"],"range":[[15,8],[9,4,2,4],[7,5],[7,5],[9,3,2,3,2,3]]},"legend":null},"order":{"field":"w","type":"quantitative"}}},
{"transform":[{"filter":"datum.s=='fit'"}],"mark":{"type":"line","color":"#0000ee","strokeWidth":4,"clip":true},"encoding":{"order":{"field":"w","type":"quantitative"}}},
{"transform":[{"filter":{"field":"s","oneOf":["name","chi","lab","grain"]}}],"mark":{"type":"text","angle":270,"align":"left","baseline":"alphabetic","color":"black"},"encoding":{"text":{"field":"t","type":"nominal"},"size":{"field":"s","type":"ordinal","scale":{"domain":["name","chi","lab","grain"],"range":[25,19,17.5,15]},"legend":null}}}
]},
{"width":249,"height":357,"data":{"name":"i"},
"encoding":{"x":{"field":"f","type":"quantitative","scale":{"type":"log","domain":[0.0031623,0.316228],"reverse":true,"nice":false},"axis":null},"y":{"field":"w","type":"quantitative","scale":{"type":"log","domain":[4,32.1],"nice":false},"axis":null}},
"resolve":{"axis":{"x":"independent","y":"independent"}},
"layer":[
{"transform":[{"filter":"datum.s=='err'"}],"mark":{"type":"rule","color":"#ffff00","strokeWidth":1.5,"clip":true},"encoding":{"x":{"field":"lo","type":"quantitative","scale":{"type":"log","domain":[0.0031623,0.316228],"reverse":true,"nice":false},"axis":{"orient":"bottom","values":[0.316228,0.1,0.031623,0.01,0.0031623],"labelExpr":"format(datum.value / pow(10, floor(log(datum.value)/LN10 + 1e-6)), '.1f') + 'E' + (floor(log(datum.value)/LN10 + 1e-6) < 0 ? '-' : '+') + format(abs(floor(log(datum.value)/LN10 + 1e-6)), '02d')","labelAngle":270,"labelAlign":"right","labelBaseline":"middle","labelFontSize":18,"labelPadding":20,"labelFlush":false,"labelOverlap":false,"labelBound":false,"labelOffset":{"condition":[{"test":"datum.value > 0.28","value":5.5},{"test":"datum.value < 0.0035","value":-7.5}],"value":0},"tickSize":-12,"tickWidth":2,"tickColor":"black","domain":false,"grid":false,"title":null}},"x2":{"field":"hi"},"y":{"field":"w","type":"quantitative","scale":{"type":"log","domain":[4,32.1],"nice":false},"axis":{"orient":"right","values":[4,6,10,20,30],"format":"d","labelAngle":270,"labelAlign":"center","labelBaseline":"top","labelFontSize":24,"labelPadding":23,"labelFlush":false,"labelOverlap":false,"labelBound":false,"tickSize":-12,"tickWidth":2,"tickColor":"black","domain":false,"grid":false,"title":"Wavelength (μm)","titleAngle":270,"titleFontSize":26,"titleFontWeight":"normal","titleX":50,"titleY":178.5,"titleBaseline":"middle","titleAlign":"center"}}}},
{"transform":[{"filter":"datum.s=='spec'"}],"mark":{"type":"line","color":"#ffff00","strokeWidth":5,"clip":true},"encoding":{"x":{"field":"f","type":"quantitative","scale":{"type":"log","domain":[0.0031623,0.316228],"reverse":true,"nice":false},"axis":{"orient":"top","values":[0.316228,0.1,0.031623,0.01,0.0031623],"labels":false,"tickSize":-12,"tickWidth":2,"tickColor":"black","domain":false,"grid":false,"title":null}},"y":{"field":"w","type":"quantitative","scale":{"type":"log","domain":[4,32.1],"nice":false},"axis":{"orient":"left","values":[4,6,10,20,30],"labels":false,"tickSize":-12,"tickWidth":2,"tickColor":"black","domain":false,"grid":false,"title":null}},"order":{"field":"w","type":"quantitative"}}},
{"transform":[{"filter":"datum.s=='spec'"}],"mark":{"type":"line","color":"#ff0000","strokeWidth":1.3,"clip":true},"encoding":{"order":{"field":"w","type":"quantitative"}}},
{"transform":[{"filter":{"field":"s","oneOf":["pl","sil","mag","mag2","pur"]}}],"mark":{"type":"line","strokeWidth":3,"clip":true},"encoding":{"color":{"field":"s","type":"nominal","scale":{"domain":["pl","sil","mag","mag2","pur"],"range":["#3399ff","#33cc33","#ff00ff","#ff00ff","#9933ee"]},"legend":null},"strokeDash":{"field":"s","type":"nominal","scale":{"domain":["pl","sil","mag","mag2","pur"],"range":[[15,8],[9,4,2,4],[7,5],[7,5],[9,3,2,3,2,3]]},"legend":null},"order":{"field":"w","type":"quantitative"}}},
{"transform":[{"filter":"datum.s=='fit'"}],"mark":{"type":"line","color":"#0000ee","strokeWidth":4,"clip":true},"encoding":{"order":{"field":"w","type":"quantitative"}}},
{"transform":[{"filter":{"field":"s","oneOf":["name","chi","lab","grain"]}}],"mark":{"type":"text","angle":270,"align":"left","baseline":"alphabetic","color":"black"},"encoding":{"text":{"field":"t","type":"nominal"},"size":{"field":"s","type":"ordinal","scale":{"domain":["name","chi","lab","grain"],"range":[25,19,17.5,15]},"legend":null}}}
]},
{"width":249,"height":357,"data":{"name":"b"},
"encoding":{"x":{"field":"f","type":"quantitative","scale":{"type":"log","domain":[0.0178,1.78],"reverse":true,"nice":false},"axis":null},"y":{"field":"w","type":"quantitative","scale":{"type":"log","domain":[4,32.1],"nice":false},"axis":null}},
"resolve":{"axis":{"x":"independent","y":"independent"}},
"layer":[
{"transform":[{"filter":"datum.s=='err'"}],"mark":{"type":"rule","color":"#ffff00","strokeWidth":1.5,"clip":true},"encoding":{"x":{"field":"lo","type":"quantitative","scale":{"type":"log","domain":[0.0178,1.78],"reverse":true,"nice":false},"axis":{"orient":"bottom","values":[1.78,0.56288,0.178,0.056288,0.0178],"labelExpr":"format(datum.value / pow(10, floor(log(datum.value)/LN10 + 1e-6)), '.1f') + 'E' + (floor(log(datum.value)/LN10 + 1e-6) < 0 ? '-' : '+') + format(abs(floor(log(datum.value)/LN10 + 1e-6)), '02d')","labelAngle":270,"labelAlign":"right","labelBaseline":"middle","labelFontSize":18,"labelPadding":20,"labelFlush":false,"labelOverlap":false,"labelBound":false,"labelOffset":{"condition":[{"test":"datum.value > 1.6","value":5.5},{"test":"datum.value < 0.02","value":-7.5}],"value":0},"tickSize":-12,"tickWidth":2,"tickColor":"black","domain":false,"grid":false,"title":null}},"x2":{"field":"hi"},"y":{"field":"w","type":"quantitative","scale":{"type":"log","domain":[4,32.1],"nice":false},"axis":{"orient":"right","values":[4,6,10,20,30],"format":"d","labelAngle":270,"labelAlign":"center","labelBaseline":"top","labelFontSize":24,"labelPadding":23,"labelFlush":false,"labelOverlap":false,"labelBound":false,"tickSize":-12,"tickWidth":2,"tickColor":"black","domain":false,"grid":false,"title":null}}}},
{"transform":[{"filter":"datum.s=='spec'"}],"mark":{"type":"line","color":"#ffff00","strokeWidth":5,"clip":true},"encoding":{"x":{"field":"f","type":"quantitative","scale":{"type":"log","domain":[0.0178,1.78],"reverse":true,"nice":false},"axis":{"orient":"top","values":[1.78,0.56288,0.178,0.056288,0.0178],"labels":false,"tickSize":-12,"tickWidth":2,"tickColor":"black","domain":false,"grid":false,"title":null}},"y":{"field":"w","type":"quantitative","scale":{"type":"log","domain":[4,32.1],"nice":false},"axis":{"orient":"left","values":[4,6,10,20,30],"labels":false,"tickSize":-12,"tickWidth":2,"tickColor":"black","domain":false,"grid":false,"title":null}},"order":{"field":"w","type":"quantitative"}}},
{"transform":[{"filter":"datum.s=='spec'"}],"mark":{"type":"line","color":"#ff0000","strokeWidth":1.3,"clip":true},"encoding":{"order":{"field":"w","type":"quantitative"}}},
{"transform":[{"filter":{"field":"s","oneOf":["pl","sil","mag","mag2","pur"]}}],"mark":{"type":"line","strokeWidth":3,"clip":true},"encoding":{"color":{"field":"s","type":"nominal","scale":{"domain":["pl","sil","mag","mag2","pur"],"range":["#3399ff","#33cc33","#ff00ff","#ff00ff","#9933ee"]},"legend":null},"strokeDash":{"field":"s","type":"nominal","scale":{"domain":["pl","sil","mag","mag2","pur"],"range":[[15,8],[9,4,2,4],[7,5],[7,5],[9,3,2,3,2,3]]},"legend":null},"order":{"field":"w","type":"quantitative"}}},
{"transform":[{"filter":"datum.s=='fit'"}],"mark":{"type":"line","color":"#0000ee","strokeWidth":4,"clip":true},"encoding":{"order":{"field":"w","type":"quantitative"}}},
{"transform":[{"filter":{"field":"s","oneOf":["name","chi","lab","grain"]}}],"mark":{"type":"text","angle":270,"align":"left","baseline":"alphabetic","color":"black"},"encoding":{"text":{"field":"t","type":"nominal"},"size":{"field":"s","type":"ordinal","scale":{"domain":["name","chi","lab","grain"],"range":[25,19,17.5,15]},"legend":null}}}
]},
{"width":249,"height":357,"data":{"name":"e"},
"encoding":{"x":{"field":"f","type":"quantitative","scale":{"type":"log","domain":[0.0031623,0.316228],"reverse":true,"nice":false},"axis":null},"y":{"field":"w","type":"quantitative","scale":{"type":"log","domain":[4,32.1],"nice":false},"axis":null}},
"resolve":{"axis":{"x":"independent","y":"independent"}},
"layer":[
{"transform":[{"filter":"datum.s=='err'"}],"mark":{"type":"rule","color":"#ffff00","strokeWidth":1.5,"clip":true},"encoding":{"x":{"field":"lo","type":"quantitative","scale":{"type":"log","domain":[0.0031623,0.316228],"reverse":true,"nice":false},"axis":{"orient":"bottom","values":[0.316228,0.1,0.031623,0.01,0.0031623],"labelExpr":"format(datum.value / pow(10, floor(log(datum.value)/LN10 + 1e-6)), '.1f') + 'E' + (floor(log(datum.value)/LN10 + 1e-6) < 0 ? '-' : '+') + format(abs(floor(log(datum.value)/LN10 + 1e-6)), '02d')","labelAngle":270,"labelAlign":"right","labelBaseline":"middle","labelFontSize":18,"labelPadding":20,"labelFlush":false,"labelOverlap":false,"labelBound":false,"labelOffset":{"condition":[{"test":"datum.value > 0.28","value":5.5},{"test":"datum.value < 0.0035","value":-7.5}],"value":0},"tickSize":-12,"tickWidth":2,"tickColor":"black","domain":false,"grid":false,"title":null}},"x2":{"field":"hi"},"y":{"field":"w","type":"quantitative","scale":{"type":"log","domain":[4,32.1],"nice":false},"axis":{"orient":"right","values":[4,6,10,20,30],"format":"d","labelAngle":270,"labelAlign":"center","labelBaseline":"top","labelFontSize":24,"labelPadding":23,"labelFlush":false,"labelOverlap":false,"labelBound":false,"tickSize":-12,"tickWidth":2,"tickColor":"black","domain":false,"grid":false,"title":null}}}},
{"transform":[{"filter":"datum.s=='spec'"}],"mark":{"type":"line","color":"#ffff00","strokeWidth":5,"clip":true},"encoding":{"x":{"field":"f","type":"quantitative","scale":{"type":"log","domain":[0.0031623,0.316228],"reverse":true,"nice":false},"axis":{"orient":"top","values":[0.316228,0.1,0.031623,0.01,0.0031623],"labels":false,"tickSize":-12,"tickWidth":2,"tickColor":"black","domain":false,"grid":false,"title":null}},"y":{"field":"w","type":"quantitative","scale":{"type":"log","domain":[4,32.1],"nice":false},"axis":{"orient":"left","values":[4,6,10,20,30],"labels":false,"tickSize":-12,"tickWidth":2,"tickColor":"black","domain":false,"grid":false,"title":null}},"order":{"field":"w","type":"quantitative"}}},
{"transform":[{"filter":"datum.s=='spec'"}],"mark":{"type":"line","color":"#ff0000","strokeWidth":1.3,"clip":true},"encoding":{"order":{"field":"w","type":"quantitative"}}},
{"transform":[{"filter":{"field":"s","oneOf":["pl","sil","mag","mag2","pur"]}}],"mark":{"type":"line","strokeWidth":3,"clip":true},"encoding":{"color":{"field":"s","type":"nominal","scale":{"domain":["pl","sil","mag","mag2","pur"],"range":["#3399ff","#33cc33","#ff00ff","#ff00ff","#9933ee"]},"legend":null},"strokeDash":{"field":"s","type":"nominal","scale":{"domain":["pl","sil","mag","mag2","pur"],"range":[[15,8],[9,4,2,4],[7,5],[7,5],[9,3,2,3,2,3]]},"legend":null},"order":{"field":"w","type":"quantitative"}}},
{"transform":[{"filter":"datum.s=='fit'"}],"mark":{"type":"line","color":"#0000ee","strokeWidth":4,"clip":true},"encoding":{"order":{"field":"w","type":"quantitative"}}},
{"transform":[{"filter":{"field":"s","oneOf":["name","chi","lab","grain"]}}],"mark":{"type":"text","angle":270,"align":"left","baseline":"alphabetic","color":"black"},"encoding":{"text":{"field":"t","type":"nominal"},"size":{"field":"s","type":"ordinal","scale":{"domain":["name","chi","lab","grain"],"range":[25,19,17.5,15]},"legend":null}}}
]},
{"width":249,"height":357,"data":{"name":"g"},
"encoding":{"x":{"field":"f","type":"quantitative","scale":{"type":"log","domain":[0.0031623,0.316228],"reverse":true,"nice":false},"axis":null},"y":{"field":"w","type":"quantitative","scale":{"type":"log","domain":[4,32.1],"nice":false},"axis":null}},
"resolve":{"axis":{"x":"independent","y":"independent"}},
"layer":[
{"transform":[{"filter":"datum.s=='err'"}],"mark":{"type":"rule","color":"#ffff00","strokeWidth":1.5,"clip":true},"encoding":{"x":{"field":"lo","type":"quantitative","scale":{"type":"log","domain":[0.0031623,0.316228],"reverse":true,"nice":false},"axis":{"orient":"bottom","values":[0.316228,0.1,0.031623,0.01,0.0031623],"labelExpr":"format(datum.value / pow(10, floor(log(datum.value)/LN10 + 1e-6)), '.1f') + 'E' + (floor(log(datum.value)/LN10 + 1e-6) < 0 ? '-' : '+') + format(abs(floor(log(datum.value)/LN10 + 1e-6)), '02d')","labelAngle":270,"labelAlign":"right","labelBaseline":"middle","labelFontSize":18,"labelPadding":20,"labelFlush":false,"labelOverlap":false,"labelBound":false,"labelOffset":{"condition":[{"test":"datum.value > 0.28","value":5.5},{"test":"datum.value < 0.0035","value":-7.5}],"value":0},"tickSize":-12,"tickWidth":2,"tickColor":"black","domain":false,"grid":false,"title":null}},"x2":{"field":"hi"},"y":{"field":"w","type":"quantitative","scale":{"type":"log","domain":[4,32.1],"nice":false},"axis":{"orient":"right","values":[4,6,10,20,30],"format":"d","labelAngle":270,"labelAlign":"center","labelBaseline":"top","labelFontSize":24,"labelPadding":23,"labelFlush":false,"labelOverlap":false,"labelBound":false,"tickSize":-12,"tickWidth":2,"tickColor":"black","domain":false,"grid":false,"title":"Wavelength (μm)","titleAngle":270,"titleFontSize":26,"titleFontWeight":"normal","titleX":50,"titleY":178.5,"titleBaseline":"middle","titleAlign":"center"}}}},
{"transform":[{"filter":"datum.s=='spec'"}],"mark":{"type":"line","color":"#ffff00","strokeWidth":5,"clip":true},"encoding":{"x":{"field":"f","type":"quantitative","scale":{"type":"log","domain":[0.0031623,0.316228],"reverse":true,"nice":false},"axis":{"orient":"top","values":[0.316228,0.1,0.031623,0.01,0.0031623],"labels":false,"tickSize":-12,"tickWidth":2,"tickColor":"black","domain":false,"grid":false,"title":null}},"y":{"field":"w","type":"quantitative","scale":{"type":"log","domain":[4,32.1],"nice":false},"axis":{"orient":"left","values":[4,6,10,20,30],"labels":false,"tickSize":-12,"tickWidth":2,"tickColor":"black","domain":false,"grid":false,"title":null}},"order":{"field":"w","type":"quantitative"}}},
{"transform":[{"filter":"datum.s=='spec'"}],"mark":{"type":"line","color":"#ff0000","strokeWidth":1.3,"clip":true},"encoding":{"order":{"field":"w","type":"quantitative"}}},
{"transform":[{"filter":{"field":"s","oneOf":["pl","sil","mag","mag2","pur"]}}],"mark":{"type":"line","strokeWidth":3,"clip":true},"encoding":{"color":{"field":"s","type":"nominal","scale":{"domain":["pl","sil","mag","mag2","pur"],"range":["#3399ff","#33cc33","#ff00ff","#ff00ff","#9933ee"]},"legend":null},"strokeDash":{"field":"s","type":"nominal","scale":{"domain":["pl","sil","mag","mag2","pur"],"range":[[15,8],[9,4,2,4],[7,5],[7,5],[9,3,2,3,2,3]]},"legend":null},"order":{"field":"w","type":"quantitative"}}},
{"transform":[{"filter":"datum.s=='fit'"}],"mark":{"type":"line","color":"#0000ee","strokeWidth":4,"clip":true},"encoding":{"order":{"field":"w","type":"quantitative"}}},
{"transform":[{"filter":{"field":"s","oneOf":["name","chi","lab","grain"]}}],"mark":{"type":"text","angle":270,"align":"left","baseline":"alphabetic","color":"black"},"encoding":{"text":{"field":"t","type":"nominal"},"size":{"field":"s","type":"ordinal","scale":{"domain":["name","chi","lab","grain"],"range":[25,19,17.5,15]},"legend":null}}}
]},
{"width":249,"height":357,"data":{"name":"a"},
"encoding":{"x":{"field":"f","type":"quantitative","scale":{"type":"log","domain":[0.002069,0.65],"reverse":true,"nice":false},"axis":null},"y":{"field":"w","type":"quantitative","scale":{"type":"log","domain":[4,32.1],"nice":false},"axis":null}},
"resolve":{"axis":{"x":"independent","y":"independent"}},
"layer":[
{"transform":[{"filter":"datum.s=='err'"}],"mark":{"type":"rule","color":"#ffff00","strokeWidth":1.5,"clip":true},"encoding":{"x":{"field":"lo","type":"quantitative","scale":{"type":"log","domain":[0.002069,0.65],"reverse":true,"nice":false},"axis":{"orient":"bottom","values":[0.65,0.154394,0.036673,0.008711,0.002069],"labelExpr":"format(datum.value / pow(10, floor(log(datum.value)/LN10 + 1e-6)), '.1f') + 'E' + (floor(log(datum.value)/LN10 + 1e-6) < 0 ? '-' : '+') + format(abs(floor(log(datum.value)/LN10 + 1e-6)), '02d')","labelAngle":270,"labelAlign":"right","labelBaseline":"middle","labelFontSize":18,"labelPadding":20,"labelFlush":false,"labelOverlap":false,"labelBound":false,"labelOffset":{"condition":[{"test":"datum.value > 0.6","value":5.5},{"test":"datum.value < 0.0023","value":-7.5}],"value":0},"tickSize":-12,"tickWidth":2,"tickColor":"black","domain":false,"grid":false,"title":"Flux Density (Jy)","titleAngle":180,"titleFontSize":19,"titleFontWeight":"normal","titleX":124.5,"titleY":93,"titleBaseline":"middle","titleAlign":"center"}},"x2":{"field":"hi"},"y":{"field":"w","type":"quantitative","scale":{"type":"log","domain":[4,32.1],"nice":false},"axis":{"orient":"right","values":[4,6,10,20,30],"format":"d","labelAngle":270,"labelAlign":"center","labelBaseline":"top","labelFontSize":24,"labelPadding":23,"labelFlush":false,"labelOverlap":false,"labelBound":false,"tickSize":-12,"tickWidth":2,"tickColor":"black","domain":false,"grid":false,"title":null}}}},
{"transform":[{"filter":"datum.s=='spec'"}],"mark":{"type":"line","color":"#ffff00","strokeWidth":5,"clip":true},"encoding":{"x":{"field":"f","type":"quantitative","scale":{"type":"log","domain":[0.002069,0.65],"reverse":true,"nice":false},"axis":{"orient":"top","values":[0.65,0.154394,0.036673,0.008711,0.002069],"labels":false,"tickSize":-12,"tickWidth":2,"tickColor":"black","domain":false,"grid":false,"title":null}},"y":{"field":"w","type":"quantitative","scale":{"type":"log","domain":[4,32.1],"nice":false},"axis":{"orient":"left","values":[4,6,10,20,30],"labels":false,"tickSize":-12,"tickWidth":2,"tickColor":"black","domain":false,"grid":false,"title":null}},"order":{"field":"w","type":"quantitative"}}},
{"transform":[{"filter":"datum.s=='spec'"}],"mark":{"type":"line","color":"#ff0000","strokeWidth":1.3,"clip":true},"encoding":{"order":{"field":"w","type":"quantitative"}}},
{"transform":[{"filter":{"field":"s","oneOf":["pl","sil","mag","mag2","pur"]}}],"mark":{"type":"line","strokeWidth":3,"clip":true},"encoding":{"color":{"field":"s","type":"nominal","scale":{"domain":["pl","sil","mag","mag2","pur"],"range":["#3399ff","#33cc33","#ff00ff","#ff00ff","#9933ee"]},"legend":null},"strokeDash":{"field":"s","type":"nominal","scale":{"domain":["pl","sil","mag","mag2","pur"],"range":[[15,8],[9,4,2,4],[7,5],[7,5],[9,3,2,3,2,3]]},"legend":null},"order":{"field":"w","type":"quantitative"}}},
{"transform":[{"filter":"datum.s=='fit'"}],"mark":{"type":"line","color":"#0000ee","strokeWidth":4,"clip":true},"encoding":{"order":{"field":"w","type":"quantitative"}}},
{"transform":[{"filter":{"field":"s","oneOf":["name","chi","lab","grain"]}}],"mark":{"type":"text","angle":270,"align":"left","baseline":"alphabetic","color":"black"},"encoding":{"text":{"field":"t","type":"nominal"},"size":{"field":"s","type":"ordinal","scale":{"domain":["name","chi","lab","grain"],"range":[25,19,17.5,15]},"legend":null}}}
]},
{"width":249,"height":357,"data":{"name":"f"},
"encoding":{"x":{"field":"f","type":"quantitative","scale":{"type":"log","domain":[0.001,0.1],"reverse":true,"nice":false},"axis":null},"y":{"field":"w","type":"quantitative","scale":{"type":"log","domain":[4,32.1],"nice":false},"axis":null}},
"resolve":{"axis":{"x":"independent","y":"independent"}},
"layer":[
{"transform":[{"filter":"datum.s=='err'"}],"mark":{"type":"rule","color":"#ffff00","strokeWidth":1.5,"clip":true},"encoding":{"x":{"field":"lo","type":"quantitative","scale":{"type":"log","domain":[0.001,0.1],"reverse":true,"nice":false},"axis":{"orient":"bottom","values":[0.1,0.031623,0.01,0.0031623,0.001],"labelExpr":"format(datum.value / pow(10, floor(log(datum.value)/LN10 + 1e-6)), '.1f') + 'E' + (floor(log(datum.value)/LN10 + 1e-6) < 0 ? '-' : '+') + format(abs(floor(log(datum.value)/LN10 + 1e-6)), '02d')","labelAngle":270,"labelAlign":"right","labelBaseline":"middle","labelFontSize":18,"labelPadding":20,"labelFlush":false,"labelOverlap":false,"labelBound":false,"labelOffset":{"condition":[{"test":"datum.value > 0.09","value":5.5},{"test":"datum.value < 0.0011","value":-7.5}],"value":0},"tickSize":-12,"tickWidth":2,"tickColor":"black","domain":false,"grid":false,"title":"Flux Density (Jy)","titleAngle":180,"titleFontSize":19,"titleFontWeight":"normal","titleX":124.5,"titleY":93,"titleBaseline":"middle","titleAlign":"center"}},"x2":{"field":"hi"},"y":{"field":"w","type":"quantitative","scale":{"type":"log","domain":[4,32.1],"nice":false},"axis":{"orient":"right","values":[4,6,10,20,30],"format":"d","labelAngle":270,"labelAlign":"center","labelBaseline":"top","labelFontSize":24,"labelPadding":23,"labelFlush":false,"labelOverlap":false,"labelBound":false,"tickSize":-12,"tickWidth":2,"tickColor":"black","domain":false,"grid":false,"title":null}}}},
{"transform":[{"filter":"datum.s=='spec'"}],"mark":{"type":"line","color":"#ffff00","strokeWidth":5,"clip":true},"encoding":{"x":{"field":"f","type":"quantitative","scale":{"type":"log","domain":[0.001,0.1],"reverse":true,"nice":false},"axis":{"orient":"top","values":[0.1,0.031623,0.01,0.0031623,0.001],"labels":false,"tickSize":-12,"tickWidth":2,"tickColor":"black","domain":false,"grid":false,"title":null}},"y":{"field":"w","type":"quantitative","scale":{"type":"log","domain":[4,32.1],"nice":false},"axis":{"orient":"left","values":[4,6,10,20,30],"labels":false,"tickSize":-12,"tickWidth":2,"tickColor":"black","domain":false,"grid":false,"title":null}},"order":{"field":"w","type":"quantitative"}}},
{"transform":[{"filter":"datum.s=='spec'"}],"mark":{"type":"line","color":"#ff0000","strokeWidth":1.3,"clip":true},"encoding":{"order":{"field":"w","type":"quantitative"}}},
{"transform":[{"filter":{"field":"s","oneOf":["pl","sil","mag","mag2","pur"]}}],"mark":{"type":"line","strokeWidth":3,"clip":true},"encoding":{"color":{"field":"s","type":"nominal","scale":{"domain":["pl","sil","mag","mag2","pur"],"range":["#3399ff","#33cc33","#ff00ff","#ff00ff","#9933ee"]},"legend":null},"strokeDash":{"field":"s","type":"nominal","scale":{"domain":["pl","sil","mag","mag2","pur"],"range":[[15,8],[9,4,2,4],[7,5],[7,5],[9,3,2,3,2,3]]},"legend":null},"order":{"field":"w","type":"quantitative"}}},
{"transform":[{"filter":"datum.s=='fit'"}],"mark":{"type":"line","color":"#0000ee","strokeWidth":4,"clip":true},"encoding":{"order":{"field":"w","type":"quantitative"}}},
{"transform":[{"filter":{"field":"s","oneOf":["name","chi","lab","grain"]}}],"mark":{"type":"text","angle":270,"align":"left","baseline":"alphabetic","color":"black"},"encoding":{"text":{"field":"t","type":"nominal"},"size":{"field":"s","type":"ordinal","scale":{"domain":["name","chi","lab","grain"],"range":[25,19,17.5,15]},"legend":null}}}
]},
{"width":249,"height":357,"data":{"name":"h"},
"encoding":{"x":{"field":"f","type":"quantitative","scale":{"type":"log","domain":[0.002069,0.65],"reverse":true,"nice":false},"axis":null},"y":{"field":"w","type":"quantitative","scale":{"type":"log","domain":[4,32.1],"nice":false},"axis":null}},
"resolve":{"axis":{"x":"independent","y":"independent"}},
"layer":[
{"transform":[{"filter":"datum.s=='err'"}],"mark":{"type":"rule","color":"#ffff00","strokeWidth":1.5,"clip":true},"encoding":{"x":{"field":"lo","type":"quantitative","scale":{"type":"log","domain":[0.002069,0.65],"reverse":true,"nice":false},"axis":{"orient":"bottom","values":[0.65,0.154394,0.036673,0.008711,0.002069],"labelExpr":"format(datum.value / pow(10, floor(log(datum.value)/LN10 + 1e-6)), '.1f') + 'E' + (floor(log(datum.value)/LN10 + 1e-6) < 0 ? '-' : '+') + format(abs(floor(log(datum.value)/LN10 + 1e-6)), '02d')","labelAngle":270,"labelAlign":"right","labelBaseline":"middle","labelFontSize":18,"labelPadding":20,"labelFlush":false,"labelOverlap":false,"labelBound":false,"labelOffset":{"condition":[{"test":"datum.value > 0.6","value":5.5},{"test":"datum.value < 0.0023","value":-7.5}],"value":0},"tickSize":-12,"tickWidth":2,"tickColor":"black","domain":false,"grid":false,"title":"Flux Density (Jy)","titleAngle":180,"titleFontSize":19,"titleFontWeight":"normal","titleX":124.5,"titleY":93,"titleBaseline":"middle","titleAlign":"center"}},"x2":{"field":"hi"},"y":{"field":"w","type":"quantitative","scale":{"type":"log","domain":[4,32.1],"nice":false},"axis":{"orient":"right","values":[4,6,10,20,30],"format":"d","labelAngle":270,"labelAlign":"center","labelBaseline":"top","labelFontSize":24,"labelPadding":23,"labelFlush":false,"labelOverlap":false,"labelBound":false,"tickSize":-12,"tickWidth":2,"tickColor":"black","domain":false,"grid":false,"title":"Wavelength (μm)","titleAngle":270,"titleFontSize":26,"titleFontWeight":"normal","titleX":50,"titleY":178.5,"titleBaseline":"middle","titleAlign":"center"}}}},
{"transform":[{"filter":"datum.s=='spec'"}],"mark":{"type":"line","color":"#ffff00","strokeWidth":5,"clip":true},"encoding":{"x":{"field":"f","type":"quantitative","scale":{"type":"log","domain":[0.002069,0.65],"reverse":true,"nice":false},"axis":{"orient":"top","values":[0.65,0.154394,0.036673,0.008711,0.002069],"labels":false,"tickSize":-12,"tickWidth":2,"tickColor":"black","domain":false,"grid":false,"title":null}},"y":{"field":"w","type":"quantitative","scale":{"type":"log","domain":[4,32.1],"nice":false},"axis":{"orient":"left","values":[4,6,10,20,30],"labels":false,"tickSize":-12,"tickWidth":2,"tickColor":"black","domain":false,"grid":false,"title":null}},"order":{"field":"w","type":"quantitative"}}},
{"transform":[{"filter":"datum.s=='spec'"}],"mark":{"type":"line","color":"#ff0000","strokeWidth":1.3,"clip":true},"encoding":{"order":{"field":"w","type":"quantitative"}}},
{"transform":[{"filter":{"field":"s","oneOf":["pl","sil","mag","mag2","pur"]}}],"mark":{"type":"line","strokeWidth":3,"clip":true},"encoding":{"color":{"field":"s","type":"nominal","scale":{"domain":["pl","sil","mag","mag2","pur"],"range":["#3399ff","#33cc33","#ff00ff","#ff00ff","#9933ee"]},"legend":null},"strokeDash":{"field":"s","type":"nominal","scale":{"domain":["pl","sil","mag","mag2","pur"],"range":[[15,8],[9,4,2,4],[7,5],[7,5],[9,3,2,3,2,3]]},"legend":null},"order":{"field":"w","type":"quantitative"}}},
{"transform":[{"filter":"datum.s=='fit'"}],"mark":{"type":"line","color":"#0000ee","strokeWidth":4,"clip":true},"encoding":{"order":{"field":"w","type":"quantitative"}}},
{"transform":[{"filter":{"field":"s","oneOf":["name","chi","lab","grain"]}}],"mark":{"type":"text","angle":270,"align":"left","baseline":"alphabetic","color":"black"},"encoding":{"text":{"field":"t","type":"nominal"},"size":{"field":"s","type":"ordinal","scale":{"domain":["name","chi","lab","grain"],"range":[25,19,17.5,15]},"legend":null}}}
]}
]
}
